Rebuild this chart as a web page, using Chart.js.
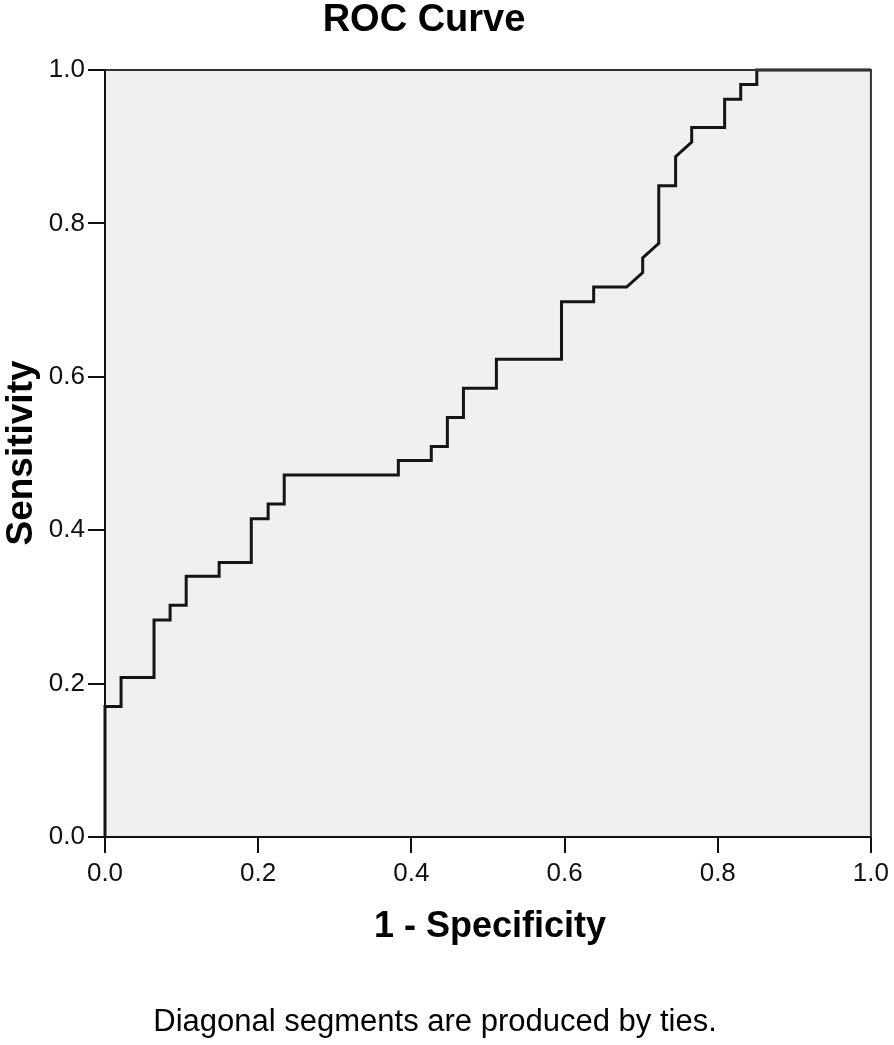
<!DOCTYPE html>
<html>
<head>
<meta charset="utf-8">
<script src="https://cdn.jsdelivr.net/npm/chart.js@4/dist/chart.umd.min.js"></script>
<style>
  html, body { margin: 0; padding: 0; background: #fff; }
  #wrap { width: 894px; height: 1045px; }
</style>
</head>
<body>
<div id="wrap"><canvas id="rocChart" width="894" height="1045"></canvas></div>
<script>
// ROC curve vertices (1 - specificity, sensitivity)
const fpr = [0, 0, 0.021, 0.021, 0.064, 0.064, 0.085, 0.085, 0.106, 0.106,
  0.149, 0.149, 0.191, 0.191, 0.213, 0.213, 0.234, 0.234, 0.383, 0.383,
  0.426, 0.426, 0.447, 0.447, 0.468, 0.468, 0.511, 0.511, 0.596, 0.596,
  0.638, 0.638, 0.681, 0.702, 0.702, 0.723, 0.723, 0.745, 0.745, 0.766,
  0.766, 0.809, 0.809, 0.830, 0.830, 0.851, 0.851, 1.0];
const tpr = [0, 0.170, 0.170, 0.208, 0.208, 0.283, 0.283, 0.302, 0.302, 0.340,
  0.340, 0.358, 0.358, 0.415, 0.415, 0.434, 0.434, 0.472, 0.472, 0.491,
  0.491, 0.509, 0.509, 0.547, 0.547, 0.585, 0.585, 0.623, 0.623, 0.698,
  0.698, 0.717, 0.717, 0.736, 0.755, 0.774, 0.849, 0.849, 0.887, 0.906,
  0.925, 0.925, 0.962, 0.962, 0.981, 0.981, 1.0, 1.0];
const tickValues = [0, 0.2, 0.4, 0.6, 0.8, 1.0];

const chartTitle = 'ROC Curve';
const xTitle = '1 - Specificity';
const yTitle = 'Sensitivity';
const footnote = 'Diagonal segments are produced by ties.';

const FONT = '"Liberation Sans", Arial, Helvetica, sans-serif';

// grey plot background, frame and the text around the plot
const decor = {
  id: 'decor',
  beforeDraw(chart) {
    const { ctx, chartArea: a } = chart;
    ctx.save();
    ctx.fillStyle = '#f0f0f0';
    ctx.fillRect(a.left, a.top, a.right - a.left, a.bottom - a.top);
    ctx.restore();
  },
  afterDraw(chart) {
    const { ctx, chartArea: a } = chart;
    ctx.save();
    ctx.strokeStyle = '#333';
    ctx.lineWidth = 2;
    ctx.beginPath();
    ctx.moveTo(a.left, a.top);
    ctx.lineTo(a.right, a.top);
    ctx.lineTo(a.right, a.bottom);
    ctx.stroke();

    ctx.fillStyle = '#000';
    ctx.textAlign = 'center';
    ctx.textBaseline = 'middle';
    ctx.font = 'bold 38px ' + FONT;
    ctx.fillText(chartTitle, 424, 21);

    ctx.font = 'bold 36px ' + FONT;
    ctx.fillText(xTitle, 490, 927);

    ctx.save();
    ctx.font = 'bold 37px ' + FONT;
    ctx.translate(22, 453);
    ctx.rotate(-Math.PI / 2);
    ctx.fillText(yTitle, 0, 0);
    ctx.restore();

    ctx.font = '31px ' + FONT;
    ctx.fillText(footnote, 435, 1022);
    ctx.restore();
  }
};

const tickOpts = {
  autoSkip: false,
  color: '#111',
  font: { family: FONT, size: 26 },
  callback: v => Number(v).toFixed(1)
};

new Chart(document.getElementById('rocChart').getContext('2d'), {
  type: 'scatter',
  data: {
    datasets: [{
      data: fpr.map((x, i) => ({ x: x, y: tpr[i] })),
      showLine: true,
      borderColor: '#151515',
      borderWidth: 3,
      pointRadius: 0,
      tension: 0,
      clip: 4
    }]
  },
  options: {
    responsive: false,
    animation: false,
    events: [],
    layout: { padding: { left: 0, top: 70, right: 21, bottom: 0 } },
    plugins: { legend: { display: false }, tooltip: { enabled: false } },
    scales: {
      x: {
        type: 'linear', min: 0, max: 1,
        afterBuildTicks: s => { s.ticks = tickValues.map(v => ({ value: v })); },
        afterFit: s => { s.height = 208; },
        grid: { drawOnChartArea: false, tickLength: 16, color: '#111', lineWidth: 2 },
        border: { color: '#111', width: 2 },
        ticks: Object.assign({ padding: 5, maxRotation: 0 }, tickOpts)
      },
      y: {
        type: 'linear', min: 0, max: 1,
        afterBuildTicks: s => { s.ticks = tickValues.map(v => ({ value: v })); },
        afterFit: s => { s.width = 105; },
        grid: { drawOnChartArea: false, tickLength: 17, color: '#111', lineWidth: 2 },
        border: { color: '#111', width: 2 },
        ticks: Object.assign({ padding: 3 }, tickOpts)
      }
    }
  },
  plugins: [decor]
});
</script>
</body>
</html>
